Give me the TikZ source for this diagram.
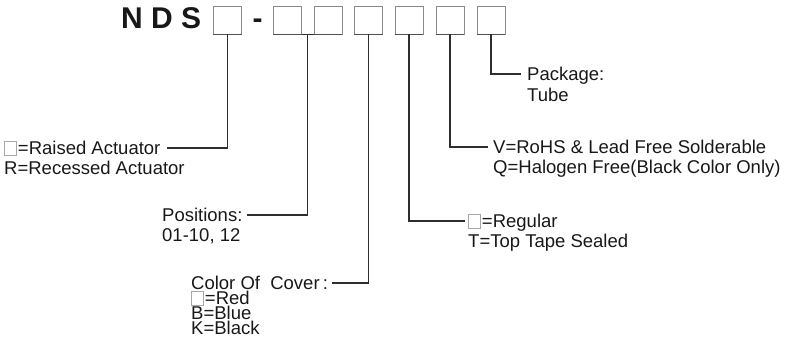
\documentclass[tikz,border=0pt]{standalone}
\usepackage{fontspec}
\setmainfont{Liberation Sans}
\usetikzlibrary{calc}
\definecolor{ink}{HTML}{1A1718}
\definecolor{linec}{HTML}{2E2E2E}
\definecolor{boxc}{HTML}{8A8A8A}
\definecolor{boxdark}{HTML}{505050}
\definecolor{sq}{HTML}{A8A8A8}
\newcommand\gsq{{\color{sq}\setlength\fboxsep{0pt}\setlength\fboxrule{0.7pt}\fbox{\vrule width 0pt height 0.7em depth 0.02em\hspace{0.62em}}}\hspace{0.05em}}
\begin{document}
\begin{tikzpicture}[x=1pt,y=-1pt,
  title/.style={font=\bfseries\fontsize{30}{32}\selectfont, text=ink, inner sep=0pt},
  bx/.style={draw=boxc, line width=0.9pt, minimum width=28pt, minimum height=28pt, inner sep=0pt},
  bxbottom/.style={draw=boxdark, line width=1.6pt},
  lbl/.style={font=\fontsize{18.5}{20}\selectfont, text=ink, inner sep=0pt, text height=13.3pt, text depth=0pt, anchor=west},
  conn/.style={draw=linec, line width=1.1pt}]
\useasboundingbox (0,0) rectangle (785,349);

% title
\node[title, anchor=base west] (nds) at (121,28) {N D S};
\node[title, anchor=base] (dash) at (257.5,28) {-};

% boxes
\node[bx] (b1) at (227.5,20) {};
\node[bx] (b2) at (287.5,20) {};
\node[bx] (b3) at (328,20) {};
\node[bx] (b4) at (368.5,20) {};
\node[bx] (b5) at (409,20) {};
\node[bx] (b6) at (450,20) {};
\node[bx] (b7) at (491,20) {};
\foreach \b in {b1,b2,b3,b4,b5,b6,b7}
  \draw[bxbottom] (\b.south west) -- (\b.south east);

% labels
\node[lbl] (t1a) at (4,148) {\gsq=Raised Actuator};
\node[lbl] (t1b) at (4,168) {R=Recessed Actuator};
\node[lbl] (t2a) at (162,215) {Positions:};
\node[lbl] (t2b) at (162,235) {01-10, 12};
\node[lbl] (t3a) at (191,283) {Color Of~ Cover\,:};
\node[lbl] (t3b) at (191,298) {\gsq=Red};
\node[lbl] (t3c) at (191,313) {B=Blue};
\node[lbl] (t3d) at (191,328) {K=Black};
\node[lbl] (t4a) at (468,221) {\gsq=Regular};
\node[lbl] (t4b) at (468,241) {T=Top Tape Sealed};
\node[lbl] (t5a) at (493,147) {V=RoHS \& Lead Free Solderable};
\node[lbl] (t5b) at (493,167) {Q=Halogen Free(Black Color Only)};
\node[lbl] (t6a) at (527,74) {Package:};
\node[lbl] (t6b) at (527,95) {Tube};

% connectors
\coordinate (m23) at ($(b2.south east)!0.5!(b3.south west)$);
\draw[conn] (b2.south east) -- (b3.south west);
\draw[conn] (b1.south) |- ([xshift=6pt]t1a.east);
\draw[conn] (m23) |- ([xshift=4pt]t2a.east);
\draw[conn] (b4.south) |- ([xshift=4pt]t3a.east);
\draw[conn] (b5.south) |- ([xshift=-3pt]t4a.west);
\draw[conn] (b6.south) |- ([xshift=-5pt]t5a.west);
\draw[conn] (b7.south) |- ([xshift=-6pt]t6a.west);
\end{tikzpicture}
\end{document}
